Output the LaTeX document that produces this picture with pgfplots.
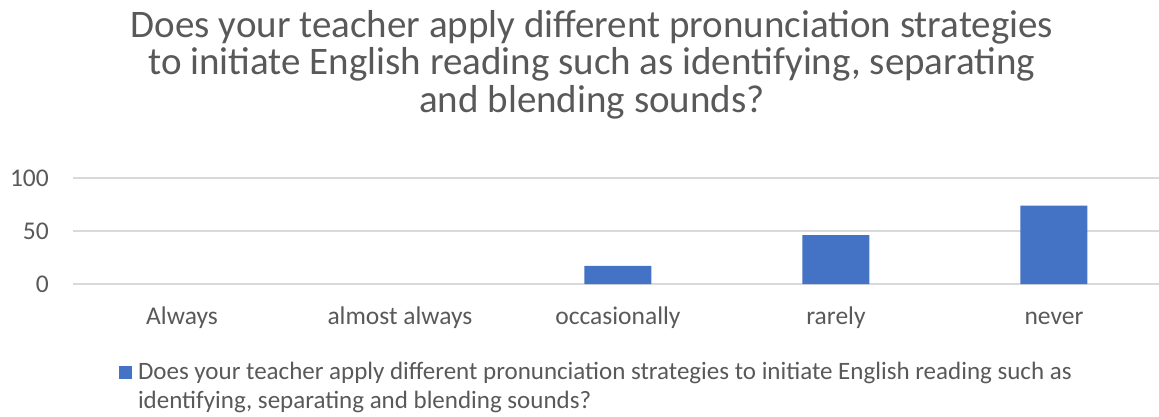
\documentclass[border=0pt]{standalone}
\usepackage{pgfplots}
\pgfplotsset{compat=1.18}
\usepackage{fontspec}
\setmainfont{Carlito}
\definecolor{barblue}{HTML}{4472C4}
\definecolor{txtgray}{HTML}{595959}
\definecolor{gridgray}{HTML}{D9D9D9}
\begin{document}
\begin{tikzpicture}[x=1pt,y=1pt]
\begin{axis}[
  at={(73pt,132pt)}, anchor=south west,
  scale only axis, width=1090pt, height=106pt,
  xmin=-0.5, xmax=4.5, ymin=0, ymax=100,
  ybar, bar width=67pt,
  xtick={0,1,2,3,4},
  xticklabels={Always, almost always, occasionally, rarely, never},
  ytick={0,50,100},
  ymajorgrids, grid style={gridgray, line width=1.5pt},
  axis line style={draw=none},
  major tick length=0pt,
  tick style={draw=none},
  /pgf/number format/assume math mode=true,
  yticklabel style={font=\fontsize{25.5}{30}\selectfont, text=txtgray, anchor=east, inner sep=0pt, xshift=-24pt},
  xticklabel style={font=\fontsize{25.5}{30}\selectfont, text=txtgray, anchor=base, inner sep=0pt, yshift=-40pt},
  legend style={at={(axis description cs:0.0422,-0.695)}, anchor=north west, draw=none, fill=none,
    inner sep=0pt, outer sep=0pt, font=\fontsize{25}{29}\selectfont, text=txtgray,
    /tikz/every odd column/.style={column sep=4pt}},
  legend cell align=left,
  legend image code/.code={\fill[barblue] (0pt,-8pt) rectangle (13pt,5pt);},
]
\addplot[fill=barblue, draw=none, y filter/.expression={y==0 ? nan : y}] coordinates {(0,0) (1,0) (2,17) (3,46) (4,74)};
\addlegendentry{\begin{tabular}[t]{@{}l@{}}Does your teacher apply different pronunciation strategies to initiate English reading such as\\identifying, separating and blending sounds?\end{tabular}}
\end{axis}
\node[anchor=north, align=center, inner sep=0pt, text=txtgray, font=\fontsize{39}{37.5}\selectfont] at (592,406)
  {Does your teacher apply different pronunciation strategies\\to initiate English reading such as identifying, separating\\and blending sounds?};
\pgfresetboundingbox
\useasboundingbox (0,0) rectangle (1159,416);
\end{tikzpicture}
\end{document}
